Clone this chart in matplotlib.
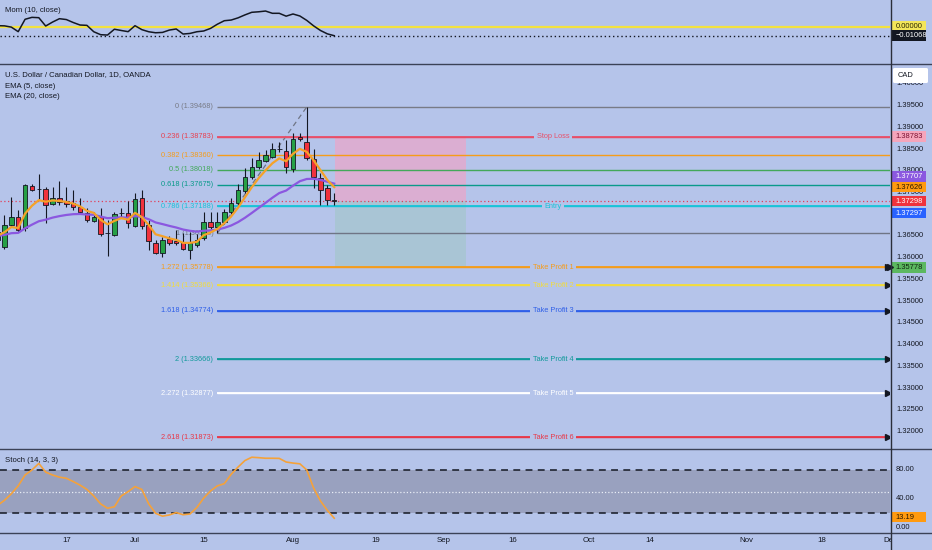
import numpy as np
import pandas as pd
import matplotlib
matplotlib.use('Agg')
import matplotlib.pyplot as plt
from matplotlib.patches import Rectangle, FancyBboxPatch
from matplotlib.lines import Line2D
import matplotlib.transforms as mtransforms

plt.rcParams['font.family'] = ['Liberation Sans', 'DejaVu Sans']

# ---------------- data ----------------
dates = pd.bdate_range('2024-06-03', '2024-08-09')
opens = [1.3641, 1.36249, 1.36755, 1.36939, 1.36686, 1.37651, 1.37570, 1.37582, 1.37237, 1.37375,
         1.37306, 1.37260, 1.37169, 1.37031, 1.36847, 1.36939, 1.36571, 1.36525, 1.37020, 1.37031,
         1.36732, 1.37375, 1.36755, 1.36341, 1.36111, 1.36433, 1.36387, 1.36364, 1.36180, 1.36295,
         1.36456, 1.36824, 1.36709, 1.36824, 1.37054, 1.37260, 1.37536, 1.37858, 1.38088, 1.38226,
         1.38318, 1.38502, 1.38456, 1.38042, 1.38778, 1.38663, 1.38272, 1.37835, 1.37605, 1.37320]
highs = [1.3665, 1.36985, 1.37398, 1.37100, 1.37697, 1.37697, 1.37927, 1.37628, 1.37628, 1.37766,
         1.37628, 1.37559, 1.37375, 1.37146, 1.37054, 1.37146, 1.36870, 1.37054, 1.37146, 1.37306,
         1.37490, 1.37559, 1.36870, 1.36410, 1.36479, 1.36502, 1.36640, 1.36571, 1.36594, 1.36548,
         1.37054, 1.37054, 1.37054, 1.37123, 1.37375, 1.37697, 1.38065, 1.38295, 1.38433, 1.38479,
         1.38640, 1.38663, 1.38709, 1.38870, 1.38860, 1.39468, 1.38502, 1.37950, 1.37674, 1.37490]
lows = [1.3635, 1.36203, 1.36709, 1.36594, 1.36617, 1.37536, 1.37352, 1.36801, 1.37215, 1.37215,
        1.37169, 1.37100, 1.37008, 1.36824, 1.36824, 1.36502, 1.36042, 1.36502, 1.36916, 1.36686,
        1.36709, 1.36663, 1.36180, 1.36088, 1.36019, 1.36295, 1.36295, 1.36180, 1.35973, 1.36249,
        1.36410, 1.36663, 1.36566, 1.36778, 1.37008, 1.37215, 1.37490, 1.37812, 1.38042, 1.38203,
        1.38295, 1.38433, 1.37950, 1.37973, 1.38686, 1.38249, 1.37605, 1.37215, 1.37215, 1.37215]
closes = [1.3659, 1.36755, 1.36939, 1.36640, 1.37674, 1.37559, 1.37582, 1.37215, 1.37375, 1.37283,
          1.37237, 1.37169, 1.37054, 1.36870, 1.36939, 1.36548, 1.36560, 1.37008, 1.37031, 1.36801,
          1.37352, 1.36732, 1.36387, 1.36111, 1.36410, 1.36341, 1.36341, 1.36203, 1.36341, 1.36410,
          1.36824, 1.36709, 1.36824, 1.37054, 1.37260, 1.37559, 1.37858, 1.38088, 1.38249, 1.38366,
          1.38502, 1.38510, 1.38088, 1.38732, 1.38732, 1.38295, 1.37858, 1.37559, 1.37329, 1.37298]
ema5_seed = 1.3646
ema20_seed = 1.3649
mom_values = [0.0012, 0.0010, -0.0005, -0.0059, 0.0088, 0.0111, 0.0107, 0.0008, 0.0055, 0.0095,
              0.0085, 0.0050, 0.0020, 0.0016, -0.0060, -0.0095, -0.0099, -0.0030, -0.0045, -0.0059,
              0.0012, -0.0035, -0.0060, -0.0072, -0.0068, -0.0040, -0.0027, -0.0087, -0.0080, -0.0060,
              -0.0051, -0.0020, 0.0030, 0.0071, 0.0079, 0.0105, 0.0140, 0.0171, 0.0177, 0.0186,
              0.0159, 0.0159, 0.0125, 0.0151, 0.0127, 0.0075, 0.0010, -0.0045, -0.0085, -0.01068]
stoch_k = [31, 38, 47, 58, 73, 80, 89, 77, 73, 70,
           68.5, 64, 59, 53, 44, 33, 27, 29, 44, 50,
           57, 53, 33, 20, 16, 17.7, 21, 18, 19, 28,
           41, 51, 58, 61, 74, 84, 93, 97.6, 97, 96.2,
           96.2, 96, 91, 89.5, 88.5, 80, 55, 37, 24, 13.19]

fib_levels = ['0', '0.236', '0.382', '0.5', '0.618', '0.786', '1', '1.272', '1.414', '1.618', '2', '2.272', '2.618']
fib_prices = [1.39468, 1.38783, 1.38360, 1.38018, 1.37675, 1.37188, 1.36566, 1.35778, 1.35366, 1.34774,
              1.33666, 1.32877, 1.31873]
fib_start_date = '2024-07-17'
fib_end_date = '2024-08-05'
trade_labels = ['Stop Loss', 'Entry', 'Take Profit 1', 'Take Profit 2', 'Take Profit 3',
                'Take Profit 4', 'Take Profit 5', 'Take Profit 6']
trade_prices = [1.38783, 1.37188, 1.35778, 1.35366, 1.34774, 1.33666, 1.32877, 1.31873]
position_entry = 1.37298
position_stop = 1.38783
position_target = 1.35778
last_close = 1.37298
bid_price = 1.37297
ema20_last = 1.37707
ema5_last = 1.37626
mom_last = -0.01068
date_ticks = ['2024-06-17', '2024-07-01', '2024-07-15', '2024-08-01', '2024-08-19', '2024-09-02',
              '2024-09-16', '2024-10-01', '2024-10-14', '2024-11-01', '2024-11-18', '2024-12-02']
date_tick_labels = ['17', 'Jul', '15', 'Aug', '19', 'Sep', '16', 'Oct', '14', 'Nov', '18', 'Dec']
price_ticks = [1.400, 1.395, 1.390, 1.385, 1.380, 1.375, 1.370, 1.365, 1.360, 1.355, 1.350,
               1.345, 1.340, 1.335, 1.330, 1.325, 1.320]
stoch_ticks = [80, 40, 0]

# ---------------- style / layout ----------------
BG = '#b5c4ea'
DARK = '#131722'
W, H = 932, 550
ANCHOR = np.datetime64('2024-08-01')
XL, XR = -42.65, 86.9
P_TOP, P_BOT = 1.40457, 1.3162
M_TOP, M_BOT = 0.0317, -0.0431
S_TOP, S_BOT = 109, -5.9
FS_LBL = 5.6
FS_AX = 5.4
fib_colors = ['#787b86', '#e8404f', '#f59c1a', '#43a85a', '#0a9a8a', '#19c3d8', '#6f7585', '#f59c1a',
              '#f2dc3c', '#2f5fe8', '#11999a', '#ffffff', '#e83848']
trade_colors = ['#e8506a', '#19c3d8', '#f59c1a', '#f2dc3c', '#2f5fe8', '#11999a', '#ffffff', '#e83848']


def bar_index(d):
    return int(np.busday_count(ANCHOR, np.datetime64(pd.Timestamp(d).date())))


xs = np.array([bar_index(d) for d in dates])

fig = plt.figure(figsize=(W / 100, H / 100), dpi=100, facecolor=BG)


def px_axes(x0, y0, x1, y1):
    a = fig.add_axes([x0 / W, 1 - y1 / H, (x1 - x0) / W, (y1 - y0) / H])
    a.set_facecolor(BG)
    for s in a.spines.values():
        s.set_visible(False)
    a.set_xticks([])
    a.set_yticks([])
    return a


# ---------------- momentum pane ----------------
axm = px_axes(0, 0, 890, 63)
axm.set_xlim(XL, XR)
axm.set_ylim(M_BOT, M_TOP)
axm.axhline(0, color='#f3e23f', lw=1.6, zorder=2)
axm.axhline(mom_last, color=DARK, lw=1.0, ls=(0, (1, 2)), zorder=2)
axm.plot(xs, mom_values, color=DARK, lw=1.1, zorder=3)

# ---------------- main price pane ----------------
ax = px_axes(0, 64, 890, 448)
ax.set_xlim(XL, XR)
ax.set_ylim(P_BOT, P_TOP)

# position tool
pos_x0, pos_x1 = 6.1, 25.2
ax.add_patch(Rectangle((pos_x0, position_entry), pos_x1 - pos_x0, position_stop - position_entry,
                       fc='#dbaed2', ec='none', zorder=1))
ax.add_patch(Rectangle((pos_x0, position_target), pos_x1 - pos_x0, position_entry - position_target,
                       fc='#a9c5d5', ec='none', zorder=1))

# fib lines
fx0 = bar_index(fib_start_date)
fx1 = bar_index(fib_end_date)
for lvl, p, c in zip(fib_levels, fib_prices, fib_colors):
    ax.plot([fx0, XR], [p, p], color=c, lw=1.0, zorder=2, solid_capstyle='butt')
    ax.text(fx0 - 0.6, p, f'{lvl} ({p:.5f})', color=c, fontsize=5.3, ha='right', va='center', zorder=2)
ax.plot([fx0, fx1], [fib_prices[6], fib_prices[0]], color='#6f7585', lw=0.9, ls=(0, (4, 3)), zorder=2)

# trade lines with labels
for lab, p, c in zip(trade_labels, trade_prices, trade_colors):
    ax.plot([fx0, XR], [p, p], color=c, lw=1.3, zorder=2.1, solid_capstyle='butt')
    ax.text(37.85, p, lab, color=c, fontsize=5.3, ha='center', va='center', zorder=2.2,
            bbox=dict(boxstyle='square,pad=0.35', fc=BG, ec='none'))
for p in trade_prices[2:]:
    ax.plot([XR - 0.35], [p], marker='>', ms=4.5, color=DARK, clip_on=False, zorder=2.3)

# last price dotted line
ax.axhline(last_close, color='#e0405a', lw=0.9, ls=(0, (1, 2)), zorder=2.4)

# candles
for x, o, h, l, c in zip(xs, opens, highs, lows, closes):
    col = '#27a046' if c >= o else '#f0323c'
    ax.plot([x, x], [l, h], color=DARK, lw=0.8, zorder=3, solid_capstyle='butt')
    bh = max(abs(c - o), 0.00004)
    ax.add_patch(Rectangle((x - 0.33, min(o, c)), 0.66, bh, fc=col, ec=DARK, lw=0.6, zorder=3.5))

# EMAs
ema5 = pd.Series([ema5_seed] + closes).ewm(span=5, adjust=False).mean().values[1:]
ema20 = pd.Series([ema20_seed] + closes).ewm(span=20, adjust=False).mean().values[1:]
ax.plot(xs, ema20, color='#8b58e0', lw=1.6, zorder=4)
ax.plot(xs, ema5, color='#f5a229', lw=1.6, zorder=4.5)

# ---------------- stochastic pane ----------------
axs = px_axes(0, 449, 890, 532)
axs.set_xlim(XL, XR)
axs.set_ylim(S_BOT, S_TOP)
axs.axhspan(20, 80, color='#99a1bf', zorder=1, lw=0)
axs.axhline(80, color=DARK, lw=1.1, ls=(0, (4.5, 3.5)), zorder=2)
axs.axhline(20, color=DARK, lw=1.1, ls=(0, (4.5, 3.5)), zorder=2)
axs.axhline(50, color='#e8ecf5', lw=0.9, ls=(0, (1, 1.6)), zorder=2)
axs.plot(xs, stoch_k, color='#f5a23a', lw=1.2, zorder=3)

# ---------------- right price scales ----------------
rax = px_axes(890, 64, 932, 448)
rax.set_xlim(0, 42)
rax.set_ylim(P_BOT, P_TOP)
ppx = (P_TOP - P_BOT) / 384.0
for t in price_ticks:
    rax.text(6, t, f'{t:.5f}', fontsize=FS_AX, color=DARK, ha='left', va='center', zorder=2)


def tag(a, y, text, bg, fg, unit, hpx=10.5):
    h = hpx * unit
    a.add_patch(Rectangle((1, y - h / 2), 34.5, h, fc=bg, ec='none', zorder=3))
    a.text(5.5, y, text, fontsize=FS_AX, color=fg, ha='left', va='center', zorder=4)


tag(rax, position_stop, f'{position_stop:.5f}', '#f5a5bb', '#7a1232', ppx)
tag(rax, position_target, f'{position_target:.5f}', '#5cb860', '#10260f', ppx)
# tags shifted by the chart to avoid overlap: display y positions
tag(rax, 1.37865, f'{ema20_last:.5f}', '#8b58e0', 'white', ppx)
tag(rax, ema5_last, f'{ema5_last:.5f}', '#ff9a10', '#2a1700', ppx)
tag(rax, last_close + 0.00005, f'{last_close:.5f}', '#f0323c', 'white', ppx)
tag(rax, 1.37024, f'{bid_price:.5f}', '#2962ff', 'white', ppx)
rax.plot([0.3], [position_target], marker='>', ms=4.5, color=DARK, clip_on=False, zorder=5)
rax.add_patch(FancyBboxPatch((3, P_TOP - 19 * ppx), 35, 15 * ppx,
                             boxstyle='round,pad=0,rounding_size=1.5', fc='white', ec='none',
                             mutation_aspect=ppx, zorder=5))
rax.text(8, P_TOP - 11.5 * ppx, 'CAD', fontsize=FS_AX, color=DARK, ha='left', va='center', zorder=6)

mrax = px_axes(890, 0, 932, 63)
mrax.set_xlim(0, 42)
mrax.set_ylim(M_BOT, M_TOP)
mpx = (M_TOP - M_BOT) / 63.0
tag(mrax, 0.0, '0.00000', '#f3e55a', '#2a2600', mpx)
tag(mrax, mom_last, f'{mom_last:.5f}'.replace('-', '\u2212'), DARK, 'white', mpx)

srax = px_axes(890, 449, 932, 532)
srax.set_xlim(0, 42)
srax.set_ylim(S_BOT, S_TOP)
spx = (S_TOP - S_BOT) / 83.0
for t in stoch_ticks:
    srax.text(6, t, f'{t:.2f}', fontsize=FS_AX, color=DARK, ha='left', va='center', zorder=2)
tag(srax, stoch_k[-1] + 1.5, f'{stoch_k[-1]:.2f}', '#ff9a10', '#2a1700', spx)

# ---------------- texts ----------------
fig.text(5 / W, 1 - 11 / H, 'Mom (10, close)', fontsize=FS_LBL, color=DARK, va='center')
fig.text(5 / W, 1 - 75 / H, 'U.S. Dollar / Canadian Dollar, 1D, OANDA', fontsize=FS_LBL, color=DARK, va='center')
fig.text(5 / W, 1 - 86 / H, 'EMA (5, close)', fontsize=FS_LBL, color=DARK, va='center')
fig.text(5 / W, 1 - 97 / H, 'EMA (20, close)', fontsize=FS_LBL, color=DARK, va='center')
fig.text(5 / W, 1 - 460 / H, 'Stoch (14, 3, 3)', fontsize=FS_LBL, color=DARK, va='center')

trd = mtransforms.blended_transform_factory(axs.transData, fig.transFigure)
for d, lab in zip(date_ticks, date_tick_labels):
    axs.text(bar_index(d), 1 - 541 / H, lab, transform=trd, fontsize=5.7, color=DARK,
             ha='center', va='center', clip_on=False)

# cover date area under price scale
fig.add_artist(Rectangle((890.5 / W, 0), 41.5 / W, 17.5 / H, transform=fig.transFigure,
                         fc=BG, ec='none', zorder=15))

# separators and price scale border
for yy in (63.5, 448.5, 532.5):
    fig.add_artist(Line2D([0, 1], [1 - yy / H, 1 - yy / H], transform=fig.transFigure,
                          color='#3b4257', lw=1.0, zorder=16))
fig.add_artist(Line2D([890.5 / W, 890.5 / W], [0, 1], transform=fig.transFigure,
                      color='#2a2e39', lw=1.0, zorder=16))

fig.savefig('out.png', dpi=100, facecolor=BG)
